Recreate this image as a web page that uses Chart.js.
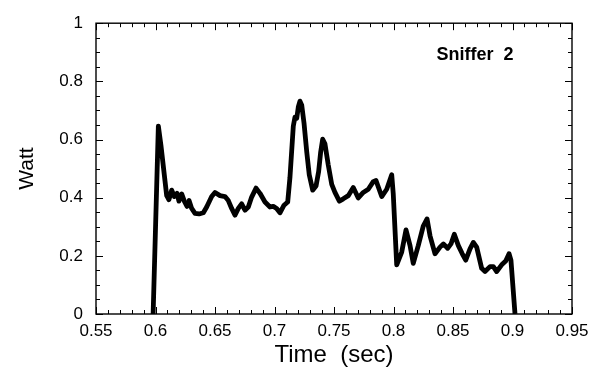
<!DOCTYPE html>
<html>
<head>
<meta charset="UTF-8">
<title>Sniffer 2</title>
<script src="https://cdn.jsdelivr.net/npm/chart.js"></script>
<style>
  body { margin: 0; background: #fff; }
  #wrap { width: 598px; height: 371px; }
</style>
</head>
<body>
<div id="wrap"><canvas id="c"></canvas></div>
<script>
// time (sec) and power (Watt)
const times = [
  0.598, 0.6024, 0.6046, 0.608, 0.6094, 0.6113, 0.6136, 0.6158, 0.6181, 0.6197,
  0.622, 0.6242, 0.6265, 0.6282, 0.6304, 0.6332, 0.6366, 0.6402, 0.643, 0.6472,
  0.65, 0.6542, 0.6584, 0.6612, 0.664, 0.6668, 0.6696, 0.6724, 0.6752, 0.678,
  0.6808, 0.6845, 0.6878, 0.692, 0.6962, 0.699, 0.7018, 0.7046, 0.708, 0.7111,
  0.713, 0.7158, 0.7172, 0.7187, 0.72, 0.7214, 0.7229, 0.7248, 0.7271, 0.7292,
  0.7321, 0.7349, 0.7371, 0.7388, 0.7405, 0.7424, 0.7452, 0.7481, 0.7508, 0.7545,
  0.7578, 0.762, 0.7662, 0.7704, 0.7746, 0.7788, 0.783, 0.7853, 0.7901, 0.7943,
  0.7985, 0.7998, 0.8027, 0.8069, 0.8105, 0.8139, 0.8166, 0.8208, 0.825, 0.8282,
  0.8307, 0.8349, 0.8391, 0.8419, 0.8455, 0.8483, 0.8511, 0.8545, 0.8578, 0.8607,
  0.8643, 0.8671, 0.8699, 0.8741, 0.8769, 0.8811, 0.8839, 0.8867, 0.8909, 0.8943,
  0.8971, 0.8987, 0.9021
];
const watts = [
  0.0, 0.646, 0.579, 0.457, 0.407, 0.393, 0.426, 0.404, 0.415, 0.388,
  0.413, 0.388, 0.370, 0.390, 0.363, 0.346, 0.344, 0.348, 0.368, 0.404,
  0.418, 0.407, 0.404, 0.390, 0.363, 0.340, 0.363, 0.379, 0.357, 0.368,
  0.402, 0.433, 0.415, 0.385, 0.368, 0.370, 0.363, 0.348, 0.374, 0.385,
  0.470, 0.646, 0.677, 0.673, 0.712, 0.732, 0.718, 0.657, 0.557, 0.479,
  0.426, 0.440, 0.490, 0.557, 0.601, 0.585, 0.512, 0.446, 0.418, 0.388,
  0.396, 0.407, 0.435, 0.399, 0.418, 0.429, 0.455, 0.459, 0.404, 0.429,
  0.479, 0.413, 0.169, 0.213, 0.289, 0.235, 0.174, 0.235, 0.302, 0.327,
  0.269, 0.207, 0.230, 0.241, 0.226, 0.241, 0.274, 0.235, 0.207, 0.185,
  0.224, 0.246, 0.230, 0.157, 0.146, 0.163, 0.163, 0.146, 0.169, 0.182,
  0.207, 0.185, 0.0
];
const xTicks = [0.55, 0.6, 0.65, 0.7, 0.75, 0.8, 0.85, 0.9, 0.95];
const yTicks = [0, 0.2, 0.4, 0.6, 0.8, 1];
const label = 'Sniffer  2';

const FONT = "'Liberation Sans', Arial, sans-serif";

// frame + inward tick marks on all four sides, plus the panel label
const framePlugin = {
  id: 'frame',
  afterDraw(chart) {
    const ctx = chart.ctx, a = chart.chartArea;
    const xs = chart.scales.x, ys = chart.scales.y;
    ctx.save();
    ctx.strokeStyle = '#000';
    ctx.lineWidth = 1.4;
    ctx.strokeRect(a.left, a.top, a.right - a.left, a.bottom - a.top);
    ctx.lineWidth = 1;
    ctx.beginPath();
    for (let i = 0; i <= 40; i++) {
      const v = 0.55 + i * 0.01;
      const px = Math.round(xs.getPixelForValue(v)) + 0.5;
      const len = i % 5 === 0 ? 7 : 4;
      ctx.moveTo(px, a.bottom); ctx.lineTo(px, a.bottom - len);
      ctx.moveTo(px, a.top); ctx.lineTo(px, a.top + len);
    }
    for (let i = 0; i <= 20; i++) {
      const v = i * 0.05;
      const py = Math.round(ys.getPixelForValue(v)) + 0.5;
      const len = i % 4 === 0 ? 7 : 4;
      ctx.moveTo(a.left, py); ctx.lineTo(a.left + len, py);
      ctx.moveTo(a.right, py); ctx.lineTo(a.right - len, py);
    }
    ctx.stroke();
    ctx.fillStyle = '#000';
    ctx.font = 'bold 18px ' + FONT;
    ctx.textAlign = 'center';
    ctx.textBaseline = 'middle';
    ctx.fillText(label, a.right - 97, a.top + 32);
    ctx.restore();
  }
};

new Chart(document.getElementById('c'), {
  type: 'line',
  data: {
    datasets: [{
      data: times.map((t, i) => ({ x: t, y: watts[i] })),
      borderColor: '#000',
      borderWidth: 4.8,
      borderJoinStyle: 'round',
      borderCapStyle: 'butt',
      pointRadius: 0,
      tension: 0,
      fill: false
    }]
  },
  options: {
    responsive: true,
    maintainAspectRatio: false,
    animation: false,
    layout: { padding: { left: 0, right: 26, top: 13, bottom: 0 } },
    plugins: { legend: { display: false }, tooltip: { enabled: false } },
    scales: {
      x: {
        type: 'linear',
        min: 0.55,
        max: 0.95,
        afterBuildTicks(s) { s.ticks = xTicks.map(v => ({ value: v })); },
        afterFit(s) { s.height = 57; },
        grid: { display: false, drawTicks: false },
        border: { display: false },
        ticks: {
          color: '#000',
          padding: 7,
          font: { family: FONT, size: 17 },
          callback: v => String(v)
        },
        title: {
          display: true,
          text: 'Time  (sec)',
          color: '#000',
          font: { family: FONT, size: 24 },
          padding: { top: 0, bottom: 1 }
        }
      },
      y: {
        min: 0,
        max: 1,
        afterBuildTicks(s) { s.ticks = yTicks.map(v => ({ value: v })); },
        afterFit(s) { s.width = 96; },
        grid: { display: false, drawTicks: false },
        border: { display: false },
        ticks: {
          color: '#000',
          padding: 13,
          font: { family: FONT, size: 17 },
          callback: v => String(v)
        },
        title: {
          display: true,
          text: 'Watt',
          color: '#000',
          font: { family: FONT, size: 21 },
          padding: { top: 15, bottom: 0 }
        }
      }
    }
  },
  plugins: [framePlugin]
});
</script>
</body>
</html>
